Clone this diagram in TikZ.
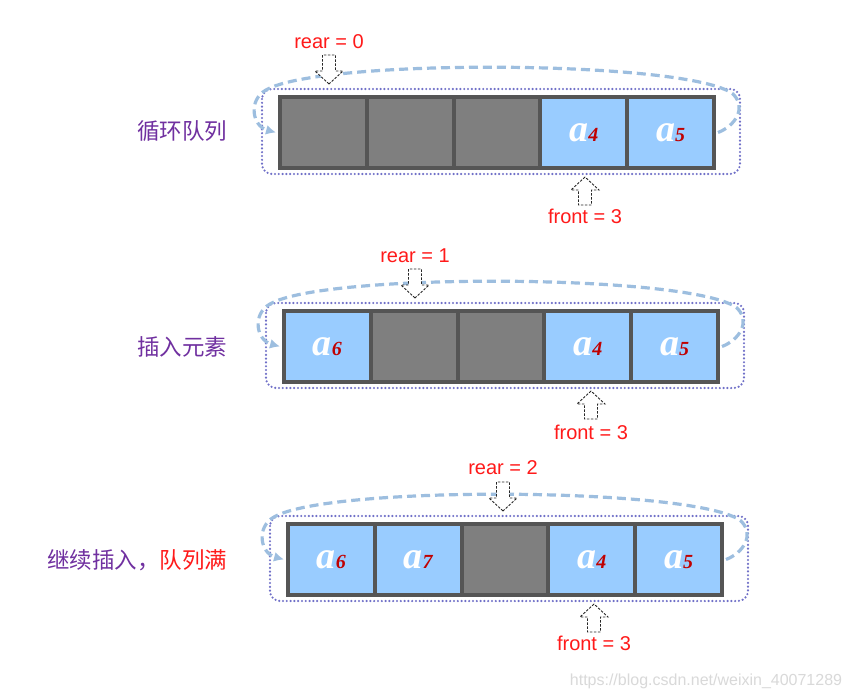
\documentclass[tikz,border=0pt]{standalone}
\usepackage{fontspec}
\setmainfont{Liberation Serif}
\setsansfont{Liberation Sans}
\newfontfamily\cjk{Noto Sans CJK SC}
\usetikzlibrary{arrows.meta}
\definecolor{cellgray}{HTML}{7F7F7F}
\definecolor{cellblue}{HTML}{99CCFF}
\definecolor{cellline}{HTML}{555555}
\definecolor{loopblue}{HTML}{9DBEDF}
\definecolor{dotpurple}{HTML}{7070C8}
\definecolor{labred}{HTML}{FF1A1A}
\definecolor{subred}{HTML}{C00000}
\definecolor{cnpurple}{HTML}{7030A0}
\newcommand\cellval[1]{{\fontsize{38}{38}\selectfont\bfseries\itshape\color{white}a}{\fontsize{20}{20}\selectfont\bfseries\itshape\color{subred}#1}}
\tikzset{
  cell/.style={rectangle, draw=cellline, line width=4pt, minimum width=86.8pt, minimum height=71pt, inner sep=0pt},
  emptycell/.style={cell, fill=cellgray},
  fullcell/.style={cell, fill=cellblue},
  ring/.style={draw=dotpurple, line width=2.4pt, line cap=round, dash pattern=on 0pt off 3.8pt, rounded corners=10pt},
  loopline/.style={draw=loopblue, line width=3.2pt, dash pattern=on 9pt off 5pt, -{Latex[length=10pt,width=10pt]}},
  ptrshape/.style={draw=black!85, fill=white, line width=0.9pt, dash pattern=on 2.5pt off 1.5pt},
  lab/.style={font=\sffamily\fontsize{20}{20}\selectfont, text=labred},
  cn/.style={font=\cjk\fontsize{22.5}{22.5}\selectfont, anchor=east},
  downptr/.pic={\path[ptrshape] (0,0) -- (-14,-13) -- (-6.5,-13) -- (-6.5,-29) -- (6.5,-29) -- (6.5,-13) -- (14,-13) -- cycle;},
  upptr/.pic={\path[ptrshape] (0,0) -- (-14,13) -- (-6.5,13) -- (-6.5,28) -- (6.5,28) -- (6.5,13) -- (14,13) -- cycle;},
}
\begin{document}
\begin{tikzpicture}[x=1pt,y=-1pt]
\fill[white] (0,0) rectangle (852,699);
\useasboundingbox (0,0) rectangle (852,699);

% ---------- panel 1 ----------
\begin{scope}
\draw[ring] (262,89) rectangle (740,174);
\node[emptycell] (p1c0) at (323.4,132.5) {};
\node[emptycell] (p1c1) at (410.2,132.5) {};
\node[emptycell] (p1c2) at (497.0,132.5) {};
\node[fullcell]  (p1c3) at (583.8,132.5) {\cellval{4}};
\node[fullcell]  (p1c4) at (670.6,132.5) {\cellval{5}};
\draw[loopline] ([xshift=2pt]p1c4.east) .. controls (735,126) and (747,108) .. (733,94) .. controls (690,60) and (320,58) .. (266,90) .. controls (248,100) and (252,126) .. ([xshift=-2pt]p1c0.west);
\pic at (329,84) {downptr};
\node[lab] (p1rear) at (329,42) {rear = 0};
\pic at (585,177) {upptr};
\node[lab] (p1front) at (585,216) {front = 3};
\end{scope}
\node[cn, text=cnpurple] (t1) at (231,131) {循环队列};

% ---------- panel 2 ----------
\begin{scope}[shift={(4,214)}]
\draw[ring] (262,89) rectangle (740,174);
\node[fullcell]  (p2c0) at (323.4,132.5) {\cellval{6}};
\node[emptycell] (p2c1) at (410.2,132.5) {};
\node[emptycell] (p2c2) at (497.0,132.5) {};
\node[fullcell]  (p2c3) at (583.8,132.5) {\cellval{4}};
\node[fullcell]  (p2c4) at (670.6,132.5) {\cellval{5}};
\draw[loopline] ([xshift=2pt]p2c4.east) .. controls (735,126) and (747,108) .. (733,94) .. controls (690,60) and (320,58) .. (266,90) .. controls (248,100) and (252,126) .. ([xshift=-2pt]p2c0.west);
\pic at (411,84) {downptr};
\node[lab] (p2rear) at (411,42) {rear = 1};
\pic at (587,177) {upptr};
\node[lab] (p2front) at (587,218) {front = 3};
\end{scope}
\node[cn, text=cnpurple] (t2) at (231,347) {插入元素};

% ---------- panel 3 ----------
\begin{scope}[shift={(8,427)}]
\draw[ring] (262,89) rectangle (740,174);
\node[fullcell]  (p3c0) at (323.4,132.5) {\cellval{6}};
\node[fullcell]  (p3c1) at (410.2,132.5) {\cellval{7}};
\node[emptycell] (p3c2) at (497.0,132.5) {};
\node[fullcell]  (p3c3) at (583.8,132.5) {\cellval{4}};
\node[fullcell]  (p3c4) at (670.6,132.5) {\cellval{5}};
\draw[loopline] ([xshift=2pt]p3c4.east) .. controls (735,126) and (747,108) .. (733,94) .. controls (690,60) and (320,58) .. (266,90) .. controls (248,100) and (252,126) .. ([xshift=-2pt]p3c0.west);
\pic at (495,84) {downptr};
\node[lab] (p3rear) at (495,41) {rear = 2};
\pic at (586,177) {upptr};
\node[lab] (p3front) at (586,216) {front = 3};
\end{scope}
\node[cn] (t3) at (231,560) {\textcolor{cnpurple}{继续插入，}\textcolor{labred}{队列满}};

\node[font=\sffamily\fontsize{16}{16}\selectfont, text=black!15] (wm) at (706,681) {https://blog.csdn.net/weixin\_40071289};
\end{tikzpicture}
\end{document}
